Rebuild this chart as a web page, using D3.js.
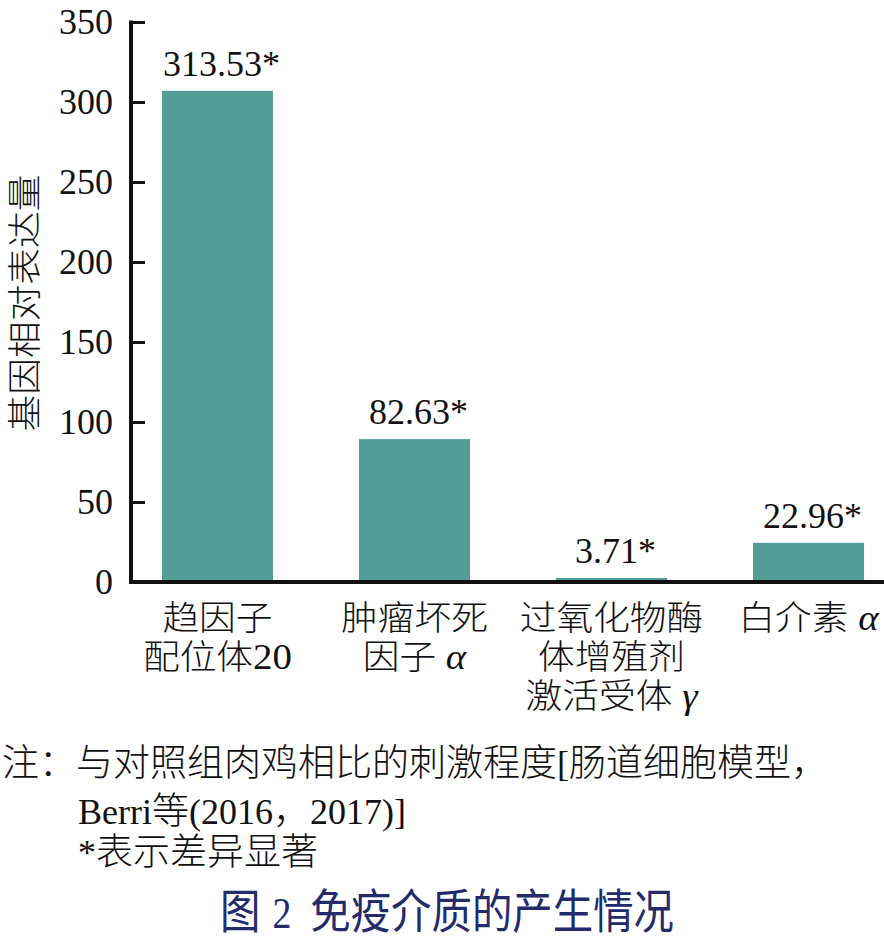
<!DOCTYPE html>
<html>
<head>
<meta charset="utf-8">
<script src="https://cdn.jsdelivr.net/npm/d3@7"></script>
<style>
  body { margin: 0; background: #fff; }
  svg { display: block; }
</style>
</head>
<body>
<div id="chart"></div>
<script>
// data
const categories = [
    ["趋因子", "配位体20"],
    ["肿瘤坏死", "因子 α"],
    ["过氧化物酶", "体增殖剂", "激活受体 γ"],
    ["白介素 α"]
];
const barValues = [307, 89.3, 2.5, 24.5];
const valueLabels = ["313.53*", "82.63*", "3.71*", "22.96*"];
const yTicks = [0, 50, 100, 150, 200, 250, 300, 350];
const yTitle = "基因相对表达量";
const noteLines = [
    "注：与对照组肉鸡相比的刺激程度[肠道细胞模型，",
    "Berri等(2016，2017)]",
    "*表示差异显著"
];
const figNumber = "图 2";
const figTitle = "免疫介质的产生情况";

const width = 884,
    height = 938;

const CJK = '"Noto Sans CJK SC", "Noto Sans", sans-serif';
const SERIF = '"Liberation Serif", "Times New Roman", serif';
const barColor = "#529d97";

const svg = d3.select("#chart").append("svg")
    .attr("width", width)
    .attr("height", height);

const keys = categories.map((c, i) => i);

const x = d3.scaleBand()
    .domain(keys)
    .range([132, 894])
    .paddingInner(0.4365)
    .paddingOuter(0.152);

const y = d3.scaleLinear()
    .domain([0, 350])
    .range([582, 22]);

// splits a string into CJK runs and latin runs so numbers use the serif face
function addRuns(text, str, cjkSize, latinSize) {
    const re = /([\u3000-\u303f\u4e00-\u9fff\uff00-\uffef]+)|([^\u3000-\u303f\u4e00-\u9fff\uff00-\uffef]+)/g;
    let m;
    while ((m = re.exec(str)) !== null) {
        const isCjk = !!m[1];
        const part = m[0];
        const ts = text.append("tspan")
            .attr("font-family", isCjk ? CJK : SERIF)
            .attr("font-size", isCjk ? cjkSize : latinSize)
            .attr("font-weight", isCjk ? 300 : 400)
            .text(part);
        if (/[αγ]/.test(part)) ts.attr("font-style", "italic");
    }
}

// bars
svg.append("g").selectAll("rect")
    .data(barValues)
    .join("rect")
        .attr("x", (d, i) => x(i))
        .attr("width", x.bandwidth())
        .attr("y", d => y(d))
        .attr("height", d => y(0) - y(d))
        .attr("fill", barColor);

// value labels
svg.append("g").selectAll("text")
    .data(valueLabels)
    .join("text")
        .attr("x", (d, i) => x(i) + x.bandwidth() / 2 + 4)
        .attr("y", (d, i) => y(barValues[i]) - 15)
        .attr("text-anchor", "middle")
        .attr("font-family", SERIF)
        .attr("font-size", 36)
        .attr("fill", "#111")
        .text(d => d);

// y axis: ticks point inward, heavy spine drawn separately
const yAxis = d3.axisRight(y)
    .tickValues(yTicks)
    .tickSize(14)
    .tickFormat("");

const yg = svg.append("g")
    .attr("transform", "translate(131,0)")
    .call(yAxis);
yg.select(".domain").remove();
yg.selectAll(".tick line").attr("stroke", "#111").attr("stroke-width", 3);

svg.append("line")
    .attr("x1", 131).attr("x2", 131)
    .attr("y1", y(350) - 1.5).attr("y2", y(0) + 2)
    .attr("stroke", "#111").attr("stroke-width", 4);

svg.append("line")
    .attr("x1", 129).attr("x2", width)
    .attr("y1", y(0)).attr("y2", y(0))
    .attr("stroke", "#111").attr("stroke-width", 4);

svg.append("g").selectAll("text")
    .data(yTicks)
    .join("text")
        .attr("x", 113)
        .attr("y", d => y(d))
        .attr("dy", "0.34em")
        .attr("text-anchor", "end")
        .attr("font-family", SERIF)
        .attr("font-size", 36)
        .attr("fill", "#111")
        .text(d => d);

// y title
const yt = svg.append("text")
    .attr("transform", "translate(37,303) rotate(-90) scale(1.08,1)")
    .attr("text-anchor", "middle")
    .attr("fill", "#111");
addRuns(yt, yTitle, 34, 34);

// category labels
const catG = svg.append("g").selectAll("g")
    .data(categories)
    .join("g")
        .attr("transform", (d, i) =>
            "translate(" + (x(i) + x.bandwidth() / 2) + ",630) scale(1.08,1)");

catG.each(function(lines) {
    const g = d3.select(this);
    lines.forEach((line, j) => {
        const t = g.append("text")
            .attr("y", j * 39)
            .attr("text-anchor", "middle")
            .attr("fill", "#111");
        addRuns(t, line, 34, 36);
    });
});

// note
const noteX = [2, 78, 78];
const noteY = [776, 824, 865];
noteLines.forEach((line, i) => {
    const t = svg.append("text")
        .attr("x", noteX[i])
        .attr("y", noteY[i])
        .attr("fill", "#111");
    addRuns(t, line, 37, 36);
});

// figure title
const tt = svg.append("text")
    .attr("transform", "translate(220,928) scale(0.86,1)")
    .attr("fill", "#232b6c");
tt.append("tspan")
    .attr("font-family", CJK).attr("font-size", 47)
    .text(figNumber.split(" ")[0]);
tt.append("tspan")
    .attr("font-family", SERIF).attr("font-size", 44)
    .attr("dx", 14)
    .text(figNumber.split(" ")[1]);
tt.append("tspan")
    .attr("font-family", CJK).attr("font-size", 47)
    .attr("dx", 22)
    .text(figTitle);
</script>
</body>
</html>
